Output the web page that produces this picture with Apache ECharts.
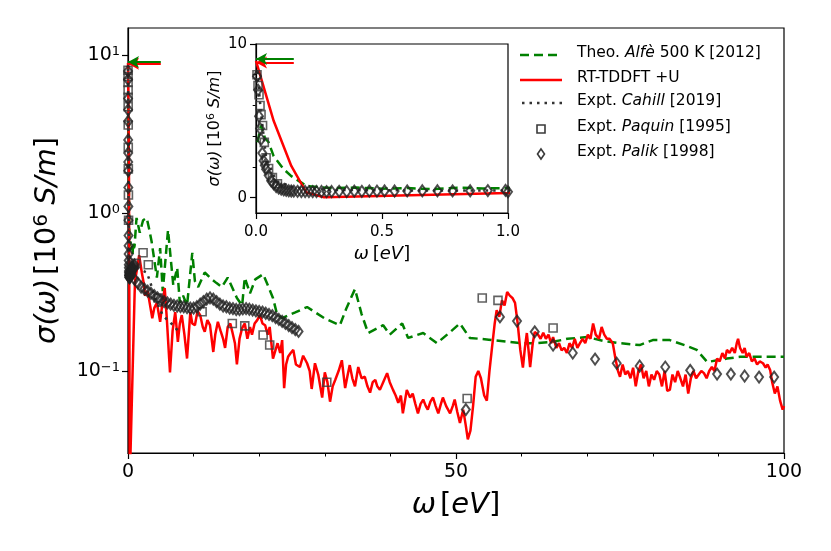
<!DOCTYPE html>
<html>
<head>
<meta charset="utf-8">
<script src="https://cdn.jsdelivr.net/npm/echarts@6/dist/echarts.min.js"></script>
<style>
  html, body { margin: 0; padding: 0; background: #fff; }
  #chart { width: 831px; height: 551px; }
</style>
</head>
<body>
<div id="chart"></div>
<script>
// 数据 (omega [eV], sigma [10^6 S/m])
var alfeData = [
  [0.006, 3.6], [0.02, 4.7], [0.035, 3.9], [0.05, 3.6], [0.07, 2.7], [0.11, 1.85], [0.14, 1.4],
  [0.18, 0.98], [0.2, 0.76], [0.25, 0.68], [0.3, 0.62], [0.4, 0.66], [0.5, 0.58], [0.6, 0.62],
  [0.7, 0.55], [0.8, 0.65], [0.9, 0.6], [1.0, 0.62],
  [1.3, 0.93], [1.8, 0.75], [2.3, 0.9], [2.85, 0.93], [3.2, 0.8], [3.6, 0.66], [4.4, 0.39],
  [4.9, 0.6], [5.3, 0.32], [6.1, 0.78], [6.9, 0.35], [7.5, 0.45], [7.9, 0.27], [8.4, 0.3],
  [9.0, 0.26], [9.8, 0.56], [10.2, 0.37], [10.7, 0.34], [11.7, 0.42], [12.8, 0.38], [13.5, 0.36],
  [14.3, 0.34], [15.2, 0.39], [16.6, 0.29], [17.4, 0.26], [17.8, 0.39], [18.6, 0.31], [19.4, 0.38],
  [20.6, 0.41], [21.3, 0.35], [22.1, 0.29], [22.7, 0.23], [23.5, 0.216], [25.5, 0.235],
  [27.3, 0.254], [30, 0.215], [32.3, 0.195], [33.3, 0.25], [34.6, 0.33], [35.6, 0.23],
  [36.6, 0.174], [38.9, 0.195], [39.9, 0.17], [41.8, 0.2], [42.7, 0.162], [45, 0.174],
  [47.1, 0.15], [49, 0.175], [50.6, 0.2], [52.1, 0.162], [55, 0.158], [59.8, 0.15], [62, 0.15],
  [64.8, 0.153], [67, 0.16], [70, 0.164], [72.5, 0.155], [75, 0.15], [78, 0.146], [80, 0.157],
  [82.6, 0.157], [85, 0.145], [86.7, 0.136], [88.3, 0.114], [91.3, 0.12], [93.3, 0.123],
  [96, 0.123], [100, 0.123]
];

var rtData = [
  [0, 8.9], [0.07, 5.0], [0.14, 2.06], [0.2, 0.33], [0.27, 0.02], [1.0, 0.3],
  [1.07, 0.37], [1.4, 0.45], [1.7, 0.54], [2.1, 0.42], [2.4, 0.36], [2.6, 0.30], [3.0, 0.32],
  [3.3, 0.27], [3.7, 0.216], [4.0, 0.25], [4.4, 0.27], [4.9, 0.205], [5.2, 0.26], [5.6, 0.335],
  [5.9, 0.22], [6.4, 0.098], [6.8, 0.18], [7.2, 0.236], [7.6, 0.153], [7.9, 0.2], [8.2, 0.226],
  [8.6, 0.17], [9.0, 0.12], [9.5, 0.236], [9.8, 0.2], [10.2, 0.195], [10.6, 0.24], [11.0, 0.226],
  [11.4, 0.19], [11.7, 0.177], [12.1, 0.21], [12.5, 0.195], [13.0, 0.132], [13.3, 0.17],
  [13.7, 0.205], [14.1, 0.18], [14.5, 0.16], [14.8, 0.14], [15.2, 0.19], [15.6, 0.2],
  [15.9, 0.177], [16.3, 0.15], [16.6, 0.11], [17.0, 0.16], [17.4, 0.187], [17.8, 0.2],
  [18.2, 0.16], [18.6, 0.19], [18.9, 0.17], [19.3, 0.2], [19.7, 0.21], [20.1, 0.226],
  [20.5, 0.2], [20.9, 0.195], [21.3, 0.17], [21.6, 0.19], [22.1, 0.12], [22.4, 0.117],
  [22.8, 0.15], [23.2, 0.13], [23.5, 0.157], [23.8, 0.078], [24.1, 0.11], [24.4, 0.123],
  [24.8, 0.13], [25.2, 0.136], [25.6, 0.11], [26.2, 0.106], [26.7, 0.125], [27.3, 0.112],
  [27.7, 0.1], [28.0, 0.077], [28.5, 0.112], [29.0, 0.095], [29.6, 0.068], [30.0, 0.098],
  [30.4, 0.085], [30.8, 0.064], [31.2, 0.08], [31.6, 0.088], [32.1, 0.1], [32.6, 0.117],
  [33.1, 0.078], [33.5, 0.095], [33.8, 0.109], [34.2, 0.09], [34.6, 0.08], [35.1, 0.106],
  [35.6, 0.09], [36.1, 0.092], [36.5, 0.08], [36.9, 0.073], [37.3, 0.085], [37.7, 0.088],
  [38.0, 0.08], [38.4, 0.076], [38.9, 0.085], [39.5, 0.097], [39.9, 0.085], [40.4, 0.076],
  [40.8, 0.07], [41.2, 0.063], [41.6, 0.07], [41.9, 0.054], [42.5, 0.076], [43.0, 0.068],
  [43.4, 0.072], [43.8, 0.062], [44.2, 0.054], [44.6, 0.062], [45.0, 0.066], [45.4, 0.06],
  [45.7, 0.057], [46.1, 0.064], [46.5, 0.068], [46.9, 0.06], [47.3, 0.054], [47.7, 0.062],
  [48.0, 0.068], [48.5, 0.06], [49.1, 0.054], [49.5, 0.06], [49.8, 0.066], [50.2, 0.055],
  [50.6, 0.047], [51.1, 0.057], [51.5, 0.045], [51.8, 0.037], [52.2, 0.042], [52.6, 0.06],
  [53.0, 0.092], [53.4, 0.1], [53.8, 0.09], [54.3, 0.07], [54.7, 0.065], [55.1, 0.1],
  [55.5, 0.142], [55.9, 0.2], [56.2, 0.243], [56.6, 0.22], [57.0, 0.28], [57.4, 0.26],
  [57.8, 0.316], [58.2, 0.3], [58.6, 0.29], [59.0, 0.27], [59.4, 0.2], [59.8, 0.136],
  [60.2, 0.105], [60.5, 0.14], [60.8, 0.174], [61.1, 0.13], [61.3, 0.106], [61.7, 0.15],
  [62.0, 0.177], [62.5, 0.17], [62.9, 0.16], [63.3, 0.175], [63.7, 0.16], [64.1, 0.17],
  [64.5, 0.15], [64.8, 0.164], [65.3, 0.14], [65.7, 0.15], [66.1, 0.135], [66.5, 0.14],
  [66.9, 0.13], [67.3, 0.15], [67.7, 0.14], [68.1, 0.16], [68.5, 0.14], [68.9, 0.15],
  [69.3, 0.16], [69.7, 0.15], [70.1, 0.17], [70.5, 0.16], [70.9, 0.2], [71.3, 0.17],
  [71.8, 0.16], [72.2, 0.19], [72.6, 0.17], [73.0, 0.16], [73.4, 0.16], [73.9, 0.15],
  [74.3, 0.12], [74.7, 0.1], [75.0, 0.092], [75.4, 0.11], [75.8, 0.095], [76.2, 0.1],
  [76.6, 0.09], [77.0, 0.105], [77.4, 0.08], [77.8, 0.1], [78.2, 0.11], [78.6, 0.09],
  [79.0, 0.1], [79.4, 0.08], [79.8, 0.095], [80.2, 0.088], [80.6, 0.1], [81.0, 0.095],
  [81.4, 0.08], [81.8, 0.1], [82.2, 0.075], [82.6, 0.076], [83.0, 0.095], [83.4, 0.085],
  [83.8, 0.1], [84.2, 0.09], [84.6, 0.08], [85.0, 0.095], [85.4, 0.072], [85.8, 0.09],
  [86.2, 0.1], [86.6, 0.09], [87.0, 0.095], [87.4, 0.1], [87.8, 0.097], [88.2, 0.09],
  [88.6, 0.1], [89.0, 0.106], [89.4, 0.1], [89.8, 0.12], [90.2, 0.115], [90.6, 0.13],
  [91.0, 0.12], [91.3, 0.136], [91.7, 0.13], [92.1, 0.14], [92.5, 0.13], [92.8, 0.15],
  [93.0, 0.16], [93.3, 0.14], [93.7, 0.13], [94.0, 0.14], [94.3, 0.123], [94.7, 0.13],
  [95.1, 0.115], [95.5, 0.12], [95.9, 0.11], [96.3, 0.115], [96.8, 0.112], [97.2, 0.105],
  [97.5, 0.11], [97.9, 0.101], [98.2, 0.085], [98.6, 0.072], [99.0, 0.08], [99.4, 0.065],
  [99.8, 0.057], [100, 0.06]
];

var cahillData = [
  [0.005, 8.2], [0.02, 5.5], [0.04, 2.6], [0.08, 1.1], [0.15, 0.65], [0.3, 0.5], [0.6, 0.47],
  [1.0, 0.46], [1.5, 0.45], [2.3, 0.43], [2.85, 0.42], [3.4, 0.366], [3.8, 0.316], [4.6, 0.26],
  [5.3, 0.226], [6.0, 0.21], [6.9, 0.195], [7.6, 0.18]
];

var paquinData = [
  [0.004, 8.0], [0.008, 7.3], [0.012, 6.7], [0.016, 6.0], [0.02, 5.4], [0.026, 4.7],
  [0.033, 3.6], [0.04, 2.6], [0.05, 1.9], [0.065, 1.3], [0.085, 0.9],
  [1.2, 0.48], [2.3, 0.56], [3.1, 0.47], [4.6, 0.29], [11.3, 0.237], [15.9, 0.2], [17.8, 0.193],
  [20.6, 0.169], [21.6, 0.146], [30.3, 0.085], [51.7, 0.067], [54, 0.29], [56.4, 0.28],
  [64.8, 0.187]
];

var palikData = [
  [0.004, 7.9], [0.008, 7.0], [0.012, 5.3], [0.016, 4.5], [0.02, 3.8], [0.025, 2.9],
  [0.03, 2.4], [0.035, 2.1], [0.04, 1.85], [0.05, 1.45], [0.06, 1.1], [0.07, 0.9],
  [0.08, 0.72], [0.09, 0.62], [0.1, 0.55], [0.11, 0.5], [0.12, 0.47], [0.13, 0.45],
  [0.14, 0.43], [0.15, 0.42], [0.165, 0.41], [0.18, 0.4], [0.195, 0.4], [0.21, 0.39],
  [0.225, 0.39], [0.24, 0.4], [0.26, 0.4], [0.28, 0.39], [0.3, 0.4], [0.33, 0.41],
  [0.36, 0.4], [0.39, 0.42], [0.42, 0.41], [0.45, 0.43], [0.48, 0.42], [0.51, 0.44],
  [0.55, 0.43], [0.6, 0.44], [0.66, 0.45], [0.72, 0.45], [0.78, 0.44], [0.85, 0.45],
  [0.92, 0.46], [0.99, 0.47],
  [1.0, 0.38], [1.5, 0.36], [2.0, 0.34], [2.5, 0.33], [3.0, 0.32], [3.5, 0.31], [4.0, 0.3],
  [4.5, 0.29], [5.0, 0.28], [5.5, 0.275], [6.0, 0.27], [6.5, 0.265], [7.0, 0.26],
  [7.5, 0.258], [8.0, 0.256], [8.5, 0.255], [9.0, 0.252], [9.5, 0.25], [10.0, 0.25],
  [10.5, 0.255], [11.0, 0.265], [11.5, 0.275], [12.0, 0.285], [12.5, 0.29], [13.0, 0.285],
  [13.5, 0.275], [14.0, 0.265], [14.5, 0.258], [15.0, 0.255], [15.5, 0.25], [16.0, 0.248],
  [16.5, 0.245], [17.0, 0.245], [17.5, 0.247], [18.0, 0.248], [18.5, 0.246], [19.0, 0.243],
  [19.5, 0.24], [20.0, 0.238], [20.5, 0.236], [21.0, 0.232], [21.5, 0.228], [22.0, 0.224],
  [22.5, 0.218], [23.0, 0.212], [23.5, 0.206], [24.0, 0.2], [24.5, 0.194], [25.0, 0.188],
  [25.5, 0.183], [26.0, 0.178],
  [51.5, 0.057], [56.7, 0.22], [59.3, 0.207], [62, 0.177], [64.8, 0.146], [67.8, 0.13],
  [71.2, 0.119], [74.5, 0.112], [78, 0.1076], [81.9, 0.106], [85.7, 0.101], [89.8, 0.0957],
  [91.9, 0.0957], [94, 0.093], [96.2, 0.0916], [98.5, 0.0916]
];

// 直流电导率箭头
var dcAlfe = 9.03;
var dcRt = 8.8;

var legendLabels = [
  [{ t: 'Theo. ' }, { t: 'Alfè', i: true }, { t: ' 500 K [2012]' }],
  [{ t: 'RT-TDDFT +U' }],
  [{ t: 'Expt. ' }, { t: 'Cahill', i: true }, { t: ' [2019]' }],
  [{ t: 'Expt. ' }, { t: 'Paquin', i: true }, { t: ' [1995]' }],
  [{ t: 'Expt. ' }, { t: 'Palik', i: true }, { t: ' [1998]' }]
];

var FONT = 'DejaVu Sans';
var black = '#000';
var green = '#008000';
var red = '#ff0000';

function arrow(color, y, x0, z) {
  return {
    silent: true,
    symbol: ['none', 'arrow'],
    symbolSize: [9, 11],
    label: { show: false },
    z: z,
    lineStyle: { color: color, width: 2, type: 'solid' },
    data: [[{ coord: [x0, y] }, { coord: [0, y] }]]
  };
}

function makeSeries(xi, yi, arrowLen, zb) {
  return [
    {
      name: 'alfe', type: 'line', xAxisIndex: xi, yAxisIndex: yi, data: alfeData,
      symbol: 'none', z: zb, clip: true,
      lineStyle: { color: green, width: 2.5, type: [9, 5] },
      markLine: arrow(green, dcAlfe, arrowLen, zb + 6)
    },
    {
      name: 'rt', type: 'line', xAxisIndex: xi, yAxisIndex: yi, data: rtData,
      symbol: 'none', z: zb + 1, clip: true,
      lineStyle: { color: red, width: 2.5 },
      markLine: arrow(red, dcRt, arrowLen, zb + 5)
    },
    {
      name: 'cahill', type: 'line', xAxisIndex: xi, yAxisIndex: yi, data: cahillData,
      symbol: 'none', z: zb + 2, clip: true,
      lineStyle: { color: '#333', width: 2.5, type: [2.5, 5] }
    },
    {
      name: 'paquin', type: 'scatter', xAxisIndex: xi, yAxisIndex: yi, data: paquinData,
      symbol: 'rect', symbolSize: 8, z: zb + 3, clip: true,
      itemStyle: { color: 'rgba(0,0,0,0)', borderColor: '#3a3a3a', borderWidth: 1.6 }
    },
    {
      name: 'palik', type: 'scatter', xAxisIndex: xi, yAxisIndex: yi, data: palikData,
      symbol: 'diamond', symbolSize: [8, 11], z: zb + 4, clip: true,
      itemStyle: { color: 'rgba(0,0,0,0)', borderColor: '#222', borderWidth: 2 }
    }
  ];
}

// 图例 (手工绘制)
function legendGraphic() {
  var x0 = 520, x1 = 562, tx = 577;
  var rows = [55, 80, 103, 129, 154];
  var els = [];
  els.push({ type: 'line', shape: { x1: x0, y1: rows[0], x2: x1, y2: rows[0] },
    style: { stroke: green, lineWidth: 2.5, lineDash: [9, 5] } });
  els.push({ type: 'line', shape: { x1: x0, y1: rows[1], x2: x1, y2: rows[1] },
    style: { stroke: red, lineWidth: 2.5 } });
  els.push({ type: 'line', shape: { x1: x0 + 2, y1: rows[2], x2: x1, y2: rows[2] },
    style: { stroke: '#333', lineWidth: 2.5, lineDash: [2.5, 5] } });
  els.push({ type: 'rect', shape: { x: 537, y: rows[3] - 4, width: 8, height: 8 },
    style: { fill: 'none', stroke: '#3a3a3a', lineWidth: 1.6 } });
  els.push({ type: 'polygon', shape: { points: [[541, rows[4] - 5], [544.5, rows[4]], [541, rows[4] + 5], [537.5, rows[4]]] },
    style: { fill: 'none', stroke: '#3a3a3a', lineWidth: 1.6 } });
  legendLabels.forEach(function (parts, k) {
    var txt = parts.map(function (p) { return '{' + (p.i ? 'i' : 'n') + '|' + p.t + '}'; }).join('');
    els.push({
      type: 'text', left: tx, top: rows[k] - 10,
      style: {
        text: txt,
        rich: {
          n: { fontSize: 15.5, fontFamily: FONT, fill: black, lineHeight: 20 },
          i: { fontSize: 15.5, fontFamily: FONT, fontStyle: 'italic', fill: black, lineHeight: 20 }
        }
      }
    });
  });
  return els;
}

var supRich = {
  b: { fontSize: 19, fontFamily: FONT, color: black, lineHeight: 19, verticalAlign: 'bottom' },
  s: { fontSize: 13, fontFamily: FONT, color: black, lineHeight: 13, verticalAlign: 'top', padding: [0, 0, 8, 0] }
};

function nameRich(size, supSize, lift) {
  return {
    n: { fontSize: size, fontFamily: FONT, color: black, lineHeight: size + 1, verticalAlign: 'bottom' },
    i: { fontSize: size, fontFamily: FONT, fontStyle: 'italic', color: black, lineHeight: size + 1, verticalAlign: 'bottom' },
    s: { fontSize: supSize, fontFamily: FONT, color: black, lineHeight: supSize, verticalAlign: 'top', padding: [0, 0, lift, 0] }
  };
}

var chart = echarts.init(document.getElementById('chart'));

var option = {
  animation: false,
  backgroundColor: '#fff',
  textStyle: { fontFamily: FONT, color: black },
  graphic: legendGraphic(),
  grid: [
    { left: 128, top: 28, width: 656, height: 425, show: true, borderColor: black, borderWidth: 1.2, z: 0 },
    { left: 256, top: 44, width: 252, height: 169, show: true, borderColor: black, borderWidth: 1.2,
      backgroundColor: '#fff', z: 10 }
  ],
  xAxis: [
    {
      type: 'value', gridIndex: 0, min: 0, max: 100, interval: 50,
      axisLine: { onZero: false, lineStyle: { color: black, width: 1.2 } },
      axisTick: { length: 6, lineStyle: { color: black, width: 1.2 } },
      minorTick: { show: true, splitNumber: 5, length: 3.5, lineStyle: { color: black, width: 1 } },
      splitLine: { show: false },
      axisLabel: { fontSize: 19, color: black, margin: 10 },
      name: '{i|ω} {n|[}{i|eV}{n|]}',
      nameLocation: 'middle',
      nameGap: 37,
      nameTextStyle: { rich: nameRich(29, 20, 10) }
    },
    {
      type: 'value', gridIndex: 1, min: 0, max: 1, interval: 0.5, z: 12,
      axisLine: { onZero: false, lineStyle: { color: black, width: 1.2 } },
      axisTick: { length: 6, lineStyle: { color: black, width: 1.2 } },
      minorTick: { show: true, splitNumber: 5, length: 3.3, lineStyle: { color: black, width: 1 } },
      splitLine: { show: false },
      axisLabel: { fontSize: 15, color: black, margin: 12, formatter: function (v) { return v.toFixed(1); } },
      name: '{i|ω} {n|[}{i|eV}{n|]}',
      nameLocation: 'middle',
      nameGap: 31,
      nameTextStyle: { rich: nameRich(18, 12, 6) }
    }
  ],
  yAxis: [
    {
      type: 'log', logBase: 10, gridIndex: 0, min: 0.0303, max: 14.8,
      axisLine: { onZero: false, lineStyle: { color: black, width: 1.2 } },
      axisTick: { customValues: [0.1, 1, 10], length: 6, lineStyle: { color: black, width: 1.2 } },
      splitLine: { show: false },
      axisLabel: {
        customValues: [0.1, 1, 10],
        margin: 8,
        rich: supRich,
        formatter: function (v) {
          var e = Math.round(Math.log(v) / Math.LN10);
          return '{b|10}{s|' + (e < 0 ? '−' + (-e) : e) + '}';
        }
      },
      name: '{i|σ(ω)} {n|[10}{s|6}{n| }{i|S/m}{n|]}',
      nameLocation: 'middle',
      nameRotate: 90,
      nameGap: 66,
      nameTextStyle: { rich: nameRich(29, 20, 12) }
    },
    {
      type: 'value', gridIndex: 1, min: -1, max: 10, z: 12,
      axisLine: { onZero: false, lineStyle: { color: black, width: 1.2 } },
      axisTick: { customValues: [0, 10], length: 6, lineStyle: { color: black, width: 1.2 } },
      splitLine: { show: false },
      axisLabel: { customValues: [0, 10], fontSize: 15, color: black, margin: 9 },
      name: '{i|σ(ω)} {n|[10}{s|6}{n| }{i|S/m}{n|]}',
      nameLocation: 'middle',
      nameRotate: 90,
      nameGap: 25,
      nameTextStyle: { rich: nameRich(16, 11, 7) }
    },
    {
      // 插图小刻度
      type: 'value', gridIndex: 1, min: -1, max: 10, z: 12, position: 'left', offset: 0,
      axisLine: { show: false, onZero: false },
      axisTick: { customValues: [2, 4, 6, 8], length: 3.3, lineStyle: { color: black, width: 1 } },
      splitLine: { show: false },
      axisLabel: { show: false }
    }
  ],
  series: makeSeries(0, 0, 5, 2).concat(makeSeries(1, 1, 0.15, 20))
};

chart.setOption(option);

window.addEventListener('resize', function () {
  chart.resize();
});
</script>
</body>
</html>
